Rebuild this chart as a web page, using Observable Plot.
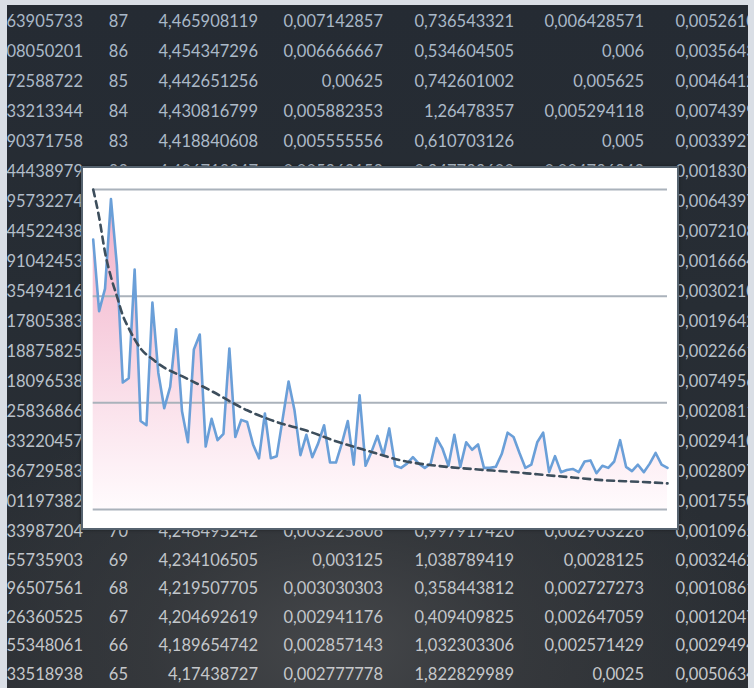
<!DOCTYPE html>
<html>
<head>
<meta charset="utf-8">
<script src="https://cdn.jsdelivr.net/npm/d3@7"></script>
<script src="https://cdn.jsdelivr.net/npm/@observablehq/plot@0.6"></script>
<style>
  html, body { margin: 0; padding: 0; }
  body { width: 754px; height: 688px; background: #d9dee5; position: relative; overflow: hidden; font-family: "Lato", "Inter", sans-serif; }
  #sheet { position: absolute; left: 7px; top: 5px; width: 741px; height: 683px; overflow: hidden;
    background: radial-gradient(ellipse 420px 260px at 330px 640px, #45474a 0%, rgba(60,62,65,0.6) 45%, rgba(40,44,50,0) 100%),
                linear-gradient(180deg, #252b33 0%, #272d34 45%, #2b2f34 100%); }
  .cell { position: absolute; white-space: nowrap; font-size: 16.5px; line-height: 20px; text-align: right; }
  #chartbox { position: absolute; left: 81px; top: 166px; width: 594px; height: 360px; background: #fff;
    border: 2px solid #56636f; box-shadow: 0 0 3px rgba(0,0,0,0.4); }
  #chartbox svg { display: block; }
</style>
</head>
<body>
<div id="sheet"></div>
<div id="chartbox"></div>
<script>
// ---- background spreadsheet text ----
const rowNumbers = [87,86,85,84,83,82,81,80,79,78,77,76,75,74,73,72,71,70,69,68,67,66,65];
const colA = ["2,363905733","1,308050201","2,772588722","1,333213344","3,290371758","1,444438979","3,595732274","1,444522438","2,891042453","1,435494216","2,117805383","1,118875825","2,818096538","1,925836866","2,333220457","1,236729583","2,401197382","1,333987204","2,555735903","1,896507561","2,126360525","1,555348061","2,333518938"];
const colC = ["4,465908119","4,454347296","4,442651256","4,430816799","4,418840608","4,406719247","","","","","","","","","","","","4,248495242","4,234106505","4,219507705","4,204692619","4,189654742","4,17438727"];
const colD = ["0,007142857","0,006666667","0,00625","0,005882353","0,005555556","0,005263158","","","","","","","","","","","","0,003225806","0,003125","0,003030303","0,002941176","0,002857143","0,002777778"];
const colE = ["0,736543321","0,534604505","0,742601002","1,26478357","0,610703126","0,347733600","","","","","","","","","","","","0,997917420","1,038789419","0,358443812","0,409409825","1,032303306","1,822829989"];
const colF = ["0,006428571","0,006","0,005625","0,005294118","0,005","0,004736842","","","","","","","","","","","","0,002903226","0,0028125","0,002727273","0,002647059","0,002571429","0,0025"];
const colG = ["0,005261062","0,003564319","0,004641281","0,007439951","0,003392764","0,001830142","0,006439753","0,007210846","0,001666431","0,003021054","0,001964283","0,002266135","0,007495612","0,002081174","0,002941086","0,002809731","0,001755063","0,001096548","0,003246215","0,001086173","0,001204785","0,002949415","0,005063482"];

// ---- chart data ----
const seriesValues = [2.53,1.86,2.07,2.91,2.29,1.19,1.23,2.25,0.83,0.79,
  1.94,1.28,0.95,1.15,1.69,0.92,0.63,1.50,1.64,0.59,
  0.85,0.65,0.71,1.51,0.68,0.84,0.82,0.61,0.48,0.90,
  0.48,0.50,0.85,1.20,0.93,0.51,0.70,0.49,0.62,0.79,
  0.44,0.44,0.62,0.83,0.42,1.07,0.41,0.54,0.69,0.51,
  0.76,0.41,0.39,0.43,0.49,0.43,0.39,0.43,0.67,0.57,
  0.41,0.70,0.40,0.63,0.56,0.61,0.39,0.39,0.40,0.52,
  0.72,0.68,0.53,0.39,0.42,0.63,0.72,0.35,0.50,0.35,
  0.37,0.38,0.35,0.45,0.46,0.34,0.41,0.39,0.45,0.65,
  0.40,0.36,0.42,0.35,0.43,0.53,0.42,0.39];
const trendX = [1,2,3,4,5,6,7,9,11,13,16,21,27,32,37,42,48,53,59,66,71,76,82,87,93,98];
const trendV = [3.0,2.74,2.41,2.18,2.00,1.82,1.70,1.51,1.41,1.33,1.25,1.11,0.93,0.82,0.74,0.64,0.54,0.46,0.41,0.375,0.355,0.33,0.30,0.275,0.26,0.245];
const gridTicks = [0,1,2,3];

// build sheet
const sheet = document.getElementById("sheet");
const colRight = [76, 121, 251, 376, 507, 637, 768]; // relative to sheet
const cols = [colA, rowNumbers.map(String), colC, colD, colE, colF, colG];
const cTop = d3.color("#a9b8c8"), cBot = d3.color("#c6c8cb");
rowNumbers.forEach((n, r) => {
  const yc = r <= 17 ? 16 + r * 30 : 16 + 17 * 30 + (r - 17) * 28.6;
  const col = d3.interpolateRgb(cTop, cBot)(r / (rowNumbers.length - 1));
  cols.forEach((c, k) => {
    const txt = c[r];
    if (!txt) return;
    const el = document.createElement("div");
    el.className = "cell";
    el.textContent = txt;
    el.style.color = col;
    el.style.top = (yc - 10) + "px";
    el.style.right = (741 - colRight[k]) + "px";
    sheet.appendChild(el);
  });
});

// build chart
const data = seriesValues.map((v, i) => ({x: i + 1, v}));
const trend = trendX.map((x, i) => ({x, v: trendV[i]}));

function gradientDefs() {
  const ns = "http://www.w3.org/2000/svg";
  const defs = document.createElementNS(ns, "defs");
  const lg = document.createElementNS(ns, "linearGradient");
  lg.setAttribute("id", "pinkFade");
  lg.setAttribute("x1", "0"); lg.setAttribute("y1", "0");
  lg.setAttribute("x2", "0"); lg.setAttribute("y2", "1");
  [["0%", "#f2b3cb"], ["35%", "#f6c9da"], ["70%", "#fbe4ed"], ["100%", "#fffbfd"]].forEach(([o, c]) => {
    const s = document.createElementNS(ns, "stop");
    s.setAttribute("offset", o); s.setAttribute("stop-color", c);
    lg.appendChild(s);
  });
  defs.appendChild(lg);
  return defs;
}

const chart = Plot.plot({
  width: 594,
  height: 360,
  marginLeft: 9.7,
  marginRight: 10,
  marginTop: 21,
  marginBottom: 19,
  x: {domain: [1, 98], axis: null},
  y: {domain: [0, 3], axis: null},
  style: {background: "#ffffff", overflow: "visible"},
  marks: [
    gradientDefs,
    Plot.areaY(data, {x: "x", y: "v", fill: "url(#pinkFade)"}),
    Plot.ruleY(gridTicks, {stroke: "#aab2bb", strokeWidth: 2}),
    Plot.lineY(data, {x: "x", y: "v", stroke: "#6a9fd8", strokeWidth: 2.6, strokeLinejoin: "round"}),
    Plot.lineY(trend, {x: "x", y: "v", curve: "monotone-x", stroke: "#3d4e5c", strokeWidth: 2.6, strokeDasharray: "7,5"})
  ]
});
document.getElementById("chartbox").appendChild(chart);
</script>
</body>
</html>
